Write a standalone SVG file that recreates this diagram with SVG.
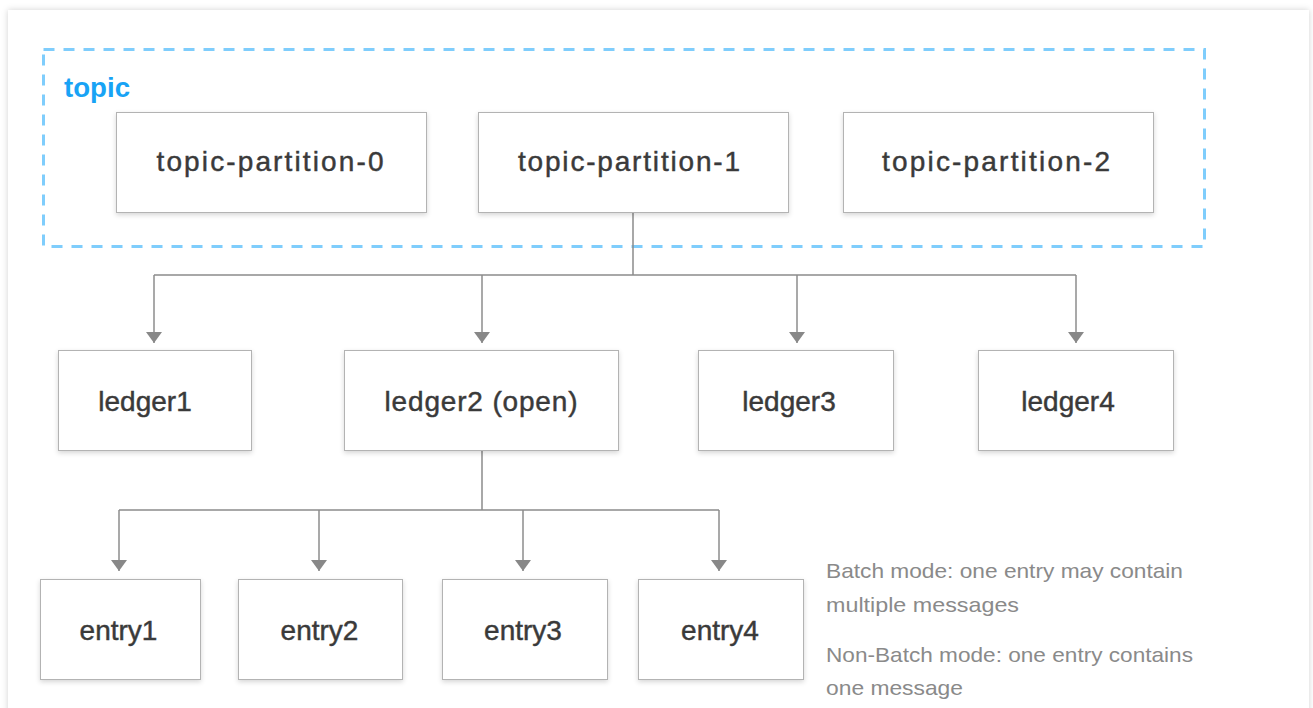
<svg xmlns="http://www.w3.org/2000/svg" width="1313" height="708" viewBox="0 0 1313 708">
  <defs>
    <filter id="cardShadow" x="-5%" y="-5%" width="110%" height="110%">
      <feDropShadow dx="0" dy="0" stdDeviation="3" flood-color="#000" flood-opacity="0.18"/>
    </filter>
    <filter id="boxShadow" x="-10%" y="-10%" width="120%" height="130%">
      <feDropShadow dx="0" dy="2" stdDeviation="2.5" flood-color="#000" flood-opacity="0.16"/>
    </filter>
    <marker id="arrow" markerUnits="userSpaceOnUse" markerWidth="11" markerHeight="16" viewBox="0 0 11 16" refX="11" refY="8" orient="auto">
      <path d="M0,0 L11,8 L0,16 z" fill="#888888"/>
    </marker>
  </defs>
  <style>
    .box { fill: #ffffff; stroke: #b3b3b3; stroke-width: 1; filter: url(#boxShadow); }
    .label { font-family: "Liberation Sans", Arial, Helvetica, sans-serif; font-size: 28px; fill: #3a3a3a; stroke: #3a3a3a; stroke-width: 0.45; text-anchor: middle; }
    .conn { fill: none; stroke: #8c8c8c; stroke-width: 1.5; }
    .note { font-family: "Liberation Sans", Arial, Helvetica, sans-serif; font-size: 21px; fill: #8a8a8a; }
  </style>

  <rect x="0" y="0" width="1313" height="708" fill="#ffffff"/>
  <rect x="8" y="10" width="1301" height="720" fill="#ffffff" filter="url(#cardShadow)"/>

  <!-- topic group -->
  <g id="topic">
    <rect x="43.5" y="49.5" width="1161" height="197" fill="none" stroke="#7fcdfc" stroke-width="3" stroke-dasharray="11 9"/>
    <text x="64" y="97" font-family="'Liberation Sans', Arial, sans-serif" font-size="27" font-weight="bold" fill="#18a3f5" textLength="66" lengthAdjust="spacingAndGlyphs">topic</text>
  </g>

  <!-- connectors -->
  <g id="connectors">
    <path class="conn" d="M633,212 V275 M154,275 H1076"/>
    <path class="conn" d="M154,275 V343" marker-end="url(#arrow)"/>
    <path class="conn" d="M482,275 V343" marker-end="url(#arrow)"/>
    <path class="conn" d="M797,275 V343" marker-end="url(#arrow)"/>
    <path class="conn" d="M1076,275 V343" marker-end="url(#arrow)"/>
    <path class="conn" d="M482,451 V510 M119,510 H719"/>
    <path class="conn" d="M119,510 V571" marker-end="url(#arrow)"/>
    <path class="conn" d="M319,510 V571" marker-end="url(#arrow)"/>
    <path class="conn" d="M523,510 V571" marker-end="url(#arrow)"/>
    <path class="conn" d="M719,510 V571" marker-end="url(#arrow)"/>
  </g>

  <!-- partitions -->
  <g id="topic-partition-0">
    <rect class="box" x="116.5" y="112.5" width="310" height="100"/>
    <text class="label" x="270" y="171" textLength="227" lengthAdjust="spacing">topic-partition-0</text>
  </g>
  <g id="topic-partition-1">
    <rect class="box" x="478.5" y="112.5" width="310" height="100"/>
    <text class="label" x="629" y="171" textLength="222" lengthAdjust="spacing">topic-partition-1</text>
  </g>
  <g id="topic-partition-2">
    <rect class="box" x="843.5" y="112.5" width="310" height="100"/>
    <text class="label" x="996" y="171" textLength="228" lengthAdjust="spacing">topic-partition-2</text>
  </g>

  <!-- ledgers -->
  <g id="ledger1">
    <rect class="box" x="58.5" y="350.5" width="193" height="100"/>
    <text class="label" x="145" y="411">ledger1</text>
  </g>
  <g id="ledger2">
    <rect class="box" x="344.5" y="350.5" width="274" height="100"/>
    <text class="label" x="481" y="411" textLength="193" lengthAdjust="spacing">ledger2 (open)</text>
  </g>
  <g id="ledger3">
    <rect class="box" x="698.5" y="350.5" width="195" height="100"/>
    <text class="label" x="789" y="411">ledger3</text>
  </g>
  <g id="ledger4">
    <rect class="box" x="978.5" y="350.5" width="195" height="100"/>
    <text class="label" x="1068" y="411">ledger4</text>
  </g>

  <!-- entries -->
  <g id="entry1">
    <rect class="box" x="40.5" y="579.5" width="160" height="100"/>
    <text class="label" x="118.5" y="640">entry1</text>
  </g>
  <g id="entry2">
    <rect class="box" x="238.5" y="579.5" width="164" height="100"/>
    <text class="label" x="319.5" y="640">entry2</text>
  </g>
  <g id="entry3">
    <rect class="box" x="442.5" y="579.5" width="165" height="100"/>
    <text class="label" x="523" y="640">entry3</text>
  </g>
  <g id="entry4">
    <rect class="box" x="638.5" y="579.5" width="165" height="100"/>
    <text class="label" x="720" y="640">entry4</text>
  </g>

  <!-- notes -->
  <g id="notes">
    <text class="note" x="826" y="578" textLength="357" lengthAdjust="spacingAndGlyphs">Batch mode: one entry may contain</text>
    <text class="note" x="826" y="612" textLength="193" lengthAdjust="spacingAndGlyphs">multiple messages</text>
    <text class="note" x="826" y="662" textLength="367" lengthAdjust="spacingAndGlyphs">Non-Batch mode: one entry contains</text>
    <text class="note" x="826" y="695" textLength="137" lengthAdjust="spacingAndGlyphs">one message</text>
  </g>
</svg>
